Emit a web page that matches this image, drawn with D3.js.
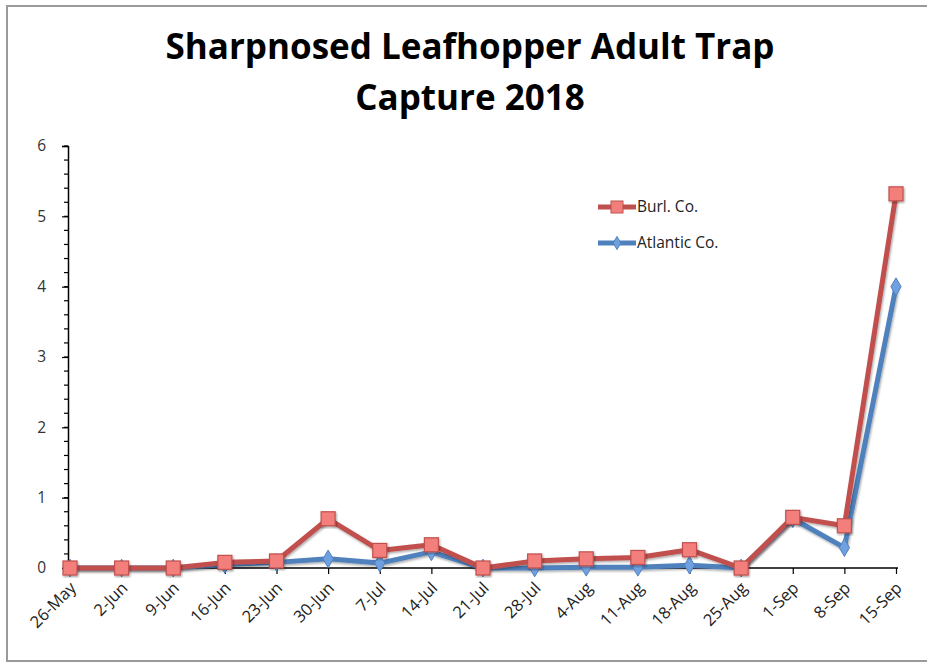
<!DOCTYPE html>
<html><head><meta charset="utf-8">
<script src="https://cdn.jsdelivr.net/npm/d3@7"></script>
<style>body{margin:0;background:#fff}svg{display:block}</style>
</head><body>
<svg id="c" width="927" height="664"></svg>
<script>
const categories = ["26-May","2-Jun","9-Jun","16-Jun","23-Jun","30-Jun","7-Jul","14-Jul","21-Jul","28-Jul","4-Aug","11-Aug","18-Aug","25-Aug","1-Sep","8-Sep","15-Sep"];
const burlValues = [0,0,0,0.08,0.1,0.7,0.25,0.33,0,0.1,0.13,0.15,0.26,0,0.72,0.6,5.32];
const atlanticValues = [0,0,0,0.05,0.08,0.13,0.07,0.23,0,0,0.01,0.01,0.04,0,0.7,0.29,4.0];
const seriesNames = ["Burl. Co.","Atlantic Co."];
const yTicks = [0,1,2,3,4,5,6];
const titleLines = ["Sharpnosed Leafhopper Adult Trap","Capture 2018"];

const svg = d3.select("#c");
const font = "'Open Sans', sans-serif";
svg.append("rect").attr("x",7).attr("y",6).attr("width",940).attr("height",655)
  .attr("fill","#fff").attr("stroke","#9a9a9a").attr("stroke-width",2);

const x = d3.scalePoint().domain(categories).range([70,896]);
const y = d3.scaleLinear().domain([0,6]).range([568,146]);

// title
svg.append("g").selectAll("text").data(titleLines).join("text")
  .attr("x",470).attr("y",(d,i)=>59+i*51).attr("text-anchor","middle")
  .attr("font-family",font).attr("font-weight","bold").attr("font-size",35)
  .attr("fill","#000").text(d=>d);

// y axis
const yAxis = d3.axisLeft(y).tickValues(yTicks).tickSize(6).tickPadding(16).tickFormat(d3.format("d"));
const gy = svg.append("g").attr("transform","translate(68,0)").call(yAxis);
gy.select(".domain").attr("stroke","#000").attr("stroke-width",1.5);
gy.selectAll(".tick line").attr("stroke","#000").attr("stroke-width",1.2);
gy.selectAll(".tick text").attr("font-family",font).attr("font-size",15.5).attr("fill","#333");
const minor = d3.range(0,6.001,0.2);
svg.append("g").selectAll("line").data(minor).join("line")
  .attr("x1",64).attr("x2",68).attr("y1",d=>y(d)).attr("y2",d=>y(d))
  .attr("stroke","#000").attr("stroke-width",1.2);

// x axis
const xAxis = d3.axisBottom(x).tickSize(6).tickSizeOuter(0).tickFormat("");
const gx = svg.append("g").attr("transform","translate(0,568)").call(xAxis);
gx.select(".domain").attr("stroke","#000").attr("stroke-width",1.5).attr("d","M68,0H898");
gx.selectAll(".tick line").attr("stroke","#000").attr("stroke-width",1.2);
svg.append("g").selectAll("text").data(categories).join("text")
  .attr("transform",d=>`translate(${x(d)+7},${589}) rotate(-45)`)
  .attr("text-anchor","end").attr("font-family",font).attr("font-size",16.5)
  .attr("fill","#222").text(d=>d);

const red = "#c0504d", blue = "#4f81bd";
const line = d3.line().x((d,i)=>x(categories[i])).y(d=>y(d));
const shadow = svg.append("defs").append("filter").attr("id","sh")
  .attr("x","-20%").attr("y","-20%").attr("width","140%").attr("height","140%");
shadow.append("feDropShadow").attr("dx",1).attr("dy",1.5).attr("stdDeviation",1.2).attr("flood-opacity",0.35);

// Atlantic
svg.append("path").datum(atlanticValues).attr("d",line).attr("fill","none")
  .attr("stroke",blue).attr("stroke-width",5).attr("stroke-linejoin","round").attr("filter","url(#sh)");
svg.append("g").selectAll("path").data(atlanticValues).join("path")
  .attr("d",d3.symbol(d3.symbolDiamond,90)).attr("transform",(d,i)=>`translate(${x(categories[i])},${y(d)})`)
  .attr("fill","#6fa0e0").attr("stroke","#4f81bd").attr("stroke-width",1);

// Burl
svg.append("path").datum(burlValues).attr("d",line).attr("fill","none")
  .attr("stroke",red).attr("stroke-width",5).attr("stroke-linejoin","round").attr("filter","url(#sh)");
svg.append("g").selectAll("rect").data(burlValues).join("rect")
  .attr("x",(d,i)=>x(categories[i])-7).attr("y",d=>y(d)-7).attr("width",14).attr("height",14)
  .attr("fill","#f37f7c").attr("stroke","#c0504d").attr("stroke-width",1.2).attr("filter","url(#sh)");

// legend
const leg = svg.append("g");
const lg = [{n:seriesNames[0],c:red,m:"sq",yy:207},{n:seriesNames[1],c:blue,m:"di",yy:243}];
lg.forEach(o=>{
  leg.append("line").attr("x1",598).attr("x2",636).attr("y1",o.yy).attr("y2",o.yy)
    .attr("stroke",o.c).attr("stroke-width",5);
  if(o.m==="sq") leg.append("rect").attr("x",611).attr("y",o.yy-6).attr("width",12).attr("height",12)
    .attr("fill","#f37f7c").attr("stroke",red).attr("stroke-width",1);
  else leg.append("path").attr("d",d3.symbol(d3.symbolDiamond,50)).attr("transform",`translate(617,${o.yy})`)
    .attr("fill","#6fa0e0").attr("stroke",blue);
  leg.append("text").attr("x",637).attr("y",o.yy+5).attr("font-family",font).attr("font-size",15.5)
    .attr("fill","#222").text(o.n);
});
</script>
</body></html>
